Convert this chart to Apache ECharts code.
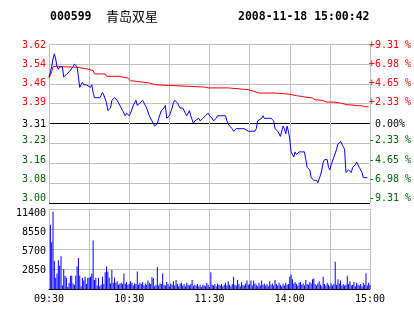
<!DOCTYPE html>
<html>
<head>
<meta charset="utf-8">
<script src="https://cdn.jsdelivr.net/npm/echarts@6/dist/echarts.min.js"></script>
<style>html,body{margin:0;padding:0;background:#fff}#c{width:414px;height:314px}</style>
</head>
<body>
<div id="c"></div>
<script>
// ---- data ----
const stockCode = '000599';
const stockName = '青岛双星';
const stamp = '2008-11-18 15:00:42';
const prevClose = 3.31;
const maxPct = 9.31;
const priceTicks = ['3.00','3.08','3.16','3.23','3.31','3.39','3.46','3.54','3.62'];
const pctTicks = ['-9.31 %','-6.98 %','-4.65 %','-2.33 %',' 0.00%','+2.33 %','+4.65 %','+6.98 %','+9.31 %'];
const volTicks = ['','2850','5700','8550','11400'];
const timeTicks = ['09:30','','10:30','','11:30','','14:00','','15:00'];

// minute offsets from 09:30 (trading minutes) and prices
const priceMinutes = [0,1,2,3,4,5,6,7,8,10,11,12,13,15,16,18,19,21,22,23,24,25,26,28,29,31,32,33,34,38,39,40,41,43,44,46,47,49,51,53,55,57,58,60,61,63,65,66,68,70,72,73,75,77,79,81,82,84,86,87,88,90,92,93,94,96,98,100,102,103,105,106,108,109,112,113,115,117,119,120,122,123,125,126,128,130,132,133,134,135,137,138,140,141,144,146,147,149,154,155,156,157,159,160,161,164,166,168,169,171,172,173,175,176,177,178,179,180,181,183,184,185,187,189,191,192,193,195,196,198,200,201,203,204,205,206,208,209,210,211,213,215,216,218,219,220,221,222,224,226,227,229,230,232,234,235,238];
const prices = [3.49,3.51,3.53,3.56,3.58,3.56,3.53,3.52,3.53,3.53,3.49,3.49,3.50,3.51,3.51,3.53,3.54,3.53,3.49,3.45,3.46,3.47,3.46,3.46,3.46,3.45,3.46,3.43,3.41,3.41,3.42,3.43,3.42,3.39,3.36,3.37,3.40,3.41,3.40,3.38,3.36,3.34,3.35,3.34,3.35,3.38,3.40,3.38,3.39,3.40,3.38,3.37,3.34,3.32,3.30,3.31,3.33,3.36,3.37,3.38,3.33,3.34,3.37,3.39,3.40,3.39,3.37,3.37,3.35,3.34,3.36,3.34,3.31,3.32,3.33,3.32,3.33,3.34,3.35,3.34,3.33,3.32,3.33,3.34,3.34,3.34,3.34,3.32,3.31,3.30,3.29,3.28,3.29,3.29,3.29,3.29,3.29,3.28,3.28,3.29,3.32,3.32,3.33,3.34,3.33,3.33,3.33,3.32,3.29,3.28,3.27,3.26,3.30,3.29,3.27,3.30,3.28,3.25,3.20,3.18,3.20,3.19,3.20,3.20,3.20,3.17,3.14,3.13,3.10,3.09,3.09,3.08,3.11,3.13,3.16,3.17,3.17,3.14,3.13,3.15,3.18,3.21,3.23,3.24,3.24,3.22,3.21,3.12,3.13,3.12,3.14,3.15,3.16,3.14,3.12,3.10,3.10];

const avgMinutes = [0,2,3,21,22,29,30,33,34,42,43,52,53,59,61,66,67,75,76,80,81,105,106,117,119,134,135,149,150,155,157,169,170,179,180,185,186,191,192,197,199,204,208,213,214,218,223,228,230,234,236,239];
const avgPrices = [3.486,3.51,3.531,3.528,3.521,3.521,3.515,3.515,3.502,3.502,3.493,3.493,3.486,3.486,3.476,3.473,3.467,3.467,3.460,3.460,3.454,3.454,3.451,3.451,3.448,3.448,3.441,3.441,3.434,3.432,3.428,3.428,3.424,3.424,3.418,3.418,3.413,3.413,3.409,3.409,3.402,3.400,3.393,3.393,3.389,3.389,3.383,3.381,3.379,3.379,3.375,3.375];

// volume per trading minute (0..240)
const volumes = [
0,9150,6650,11000,4000,1600,2200,4100,3300,4700,
500,2850,1900,1600,300,900,1900,1900,800,600,
1900,3200,4400,1900,400,1600,1200,1760,700,1600,
1600,1760,2200,6900,1300,1600,500,1600,400,600,
1760,700,2400,3200,2500,1600,800,2750,900,1600,
900,1100,600,800,900,700,2200,800,1000,600,
700,1100,900,500,800,700,2500,600,900,700,
1000,500,800,600,1200,900,700,1700,1500,400,
600,3150,500,800,700,2200,600,500,1000,700,
400,800,600,1100,500,1300,700,400,800,900,
500,700,400,900,600,500,700,1300,400,600,
500,700,400,600,300,600,500,400,900,600,
300,2400,600,500,700,400,800,600,500,700,
400,600,900,500,1100,600,400,700,1760,600,
500,1300,700,400,1000,600,500,800,1200,600,
700,1200,500,1200,800,600,400,900,500,1200,
600,800,500,700,400,1100,600,800,500,1300,
700,500,900,600,400,800,500,900,600,700,
1760,2050,1400,800,1000,700,500,900,1000,600,
800,500,1300,700,600,1000,800,1400,1500,700,
500,800,1100,600,400,1760,700,500,900,600,
400,800,500,700,3900,600,1400,800,1200,500,
700,500,600,1900,700,1100,500,600,1000,400,
900,600,500,700,400,900,600,2230,500,900,
600];

// ---- chart ----
const MONO = 'DejaVu Sans Mono';
const GRAY = '#c0c0c0';
const RED = '#ff0000';
const GREEN = '#006400';
const step = maxPct / 4;
const toPct = p => (p / prevClose - 1) * 100;
const tickIdx = v => Math.round((v + maxPct) / step);
const colorKey = i => (i > 4 ? 'r' : (i < 4 ? 'g' : 'k'));
const rich = {
  r: {color: RED, fontFamily: MONO, fontSize: 10},
  g: {color: GREEN, fontFamily: MONO, fontSize: 10},
  k: {color: '#000', fontFamily: MONO, fontSize: 10, padding: [5, 0, 0, 0]}
};
const hLineColors = priceTicks.map((t, i) => (i === 0 || i === 4) ? '#000' : GRAY);
const hiddenX = g => ({type: 'value', gridIndex: g, min: 0, max: 1, show: false});
const noLines = {axisLine: {show: false}, axisTick: {show: false}, splitLine: {show: false}};

const chart = echarts.init(document.getElementById('c'), null, {renderer: 'canvas'});
chart.setOption({
  animation: false,
  backgroundColor: '#fff',
  title: [
    {text: stockCode, left: 50, top: 11, padding: 0,
     textStyle: {fontFamily: MONO, fontWeight: 'bold', fontSize: 11.5, color: '#000'}},
    {text: stockName, left: 106, top: 10, padding: 0,
     textStyle: {fontFamily: 'Noto Sans CJK SC', fontWeight: 'normal', fontSize: 13, color: '#000'}},
    {text: stamp, left: 238, top: 11, padding: 0,
     textStyle: {fontFamily: MONO, fontWeight: 'bold', fontSize: 11.5, color: '#000'}}
  ],
  grid: [
    {left: 49, top: 44, width: 321, height: 159},   // price plot
    {left: 49, top: 209, width: 321, height: 80},   // volume plot
    {left: 49, top: 45, width: 321, height: 153.3}, // price label band
    {left: 49, top: 213, width: 321, height: 77}    // volume label band
  ],
  xAxis: [
    {type: 'value', gridIndex: 0, min: 0, max: 240, interval: 30,
     axisLine: {show: false}, axisTick: {show: false}, axisLabel: {show: false},
     splitLine: {show: true, lineStyle: {color: GRAY, width: 1}}},
    {type: 'value', gridIndex: 1, min: 0, max: 240, interval: 30,
     axisLine: {show: true, onZero: false, lineStyle: {color: '#000', width: 1}},
     axisTick: {show: false},
     axisLabel: {show: true, margin: 5, color: '#000', fontFamily: MONO, fontSize: 10,
       formatter: v => timeTicks[Math.round(v / 30)] || ''},
     splitLine: {show: true, lineStyle: {color: GRAY, width: 1}}},
    hiddenX(2),
    hiddenX(3)
  ],
  yAxis: [
    {type: 'value', gridIndex: 0, min: -maxPct, max: maxPct, interval: step,
     axisLine: {show: false}, axisTick: {show: false}, axisLabel: {show: false},
     splitLine: {show: true, lineStyle: {color: hLineColors, width: 1}}},
    {type: 'value', gridIndex: 1, min: 0, max: 11400, interval: 2850,
     axisLine: {show: false}, axisTick: {show: false}, axisLabel: {show: false},
     splitLine: {show: true, lineStyle: {color: GRAY, width: 1}}},
    Object.assign({type: 'value', gridIndex: 2, min: -maxPct, max: maxPct, interval: step,
     axisLabel: {show: true, margin: 3,
       formatter: v => { const i = tickIdx(v); return '{' + colorKey(i) + '|' + priceTicks[i] + '}'; },
       rich: rich}}, noLines),
    Object.assign({type: 'value', gridIndex: 2, position: 'right', min: -maxPct, max: maxPct, interval: step,
     axisLabel: {show: true, margin: 2,
       formatter: v => { const i = tickIdx(v); return '{' + colorKey(i) + '|' + pctTicks[i] + '}'; },
       rich: rich}}, noLines),
    Object.assign({type: 'value', gridIndex: 3, min: 0, max: 11400, interval: 2850,
     axisLabel: {show: true, margin: 3, color: '#000', fontFamily: MONO, fontSize: 10,
       formatter: v => volTicks[Math.round(v / 2850)] || ''}}, noLines)
  ],
  series: [
    {type: 'line', xAxisIndex: 0, yAxisIndex: 0, showSymbol: false, symbol: 'none',
     data: avgMinutes.map((m, i) => [m, toPct(avgPrices[i])]),
     lineStyle: {color: RED, width: 1}, itemStyle: {color: RED}, z: 3},
    {type: 'line', xAxisIndex: 0, yAxisIndex: 0, showSymbol: false, symbol: 'none',
     data: priceMinutes.map((m, i) => [m, toPct(prices[i])]),
     lineStyle: {color: '#0000ff', width: 1}, itemStyle: {color: '#0000ff'}, z: 4},
    {type: 'bar', xAxisIndex: 1, yAxisIndex: 1, barWidth: 1,
     data: volumes.map((v, i) => [i, v]),
     itemStyle: {color: '#0000ff'}, z: 3}
  ]
});
</script>
</body>
</html>
